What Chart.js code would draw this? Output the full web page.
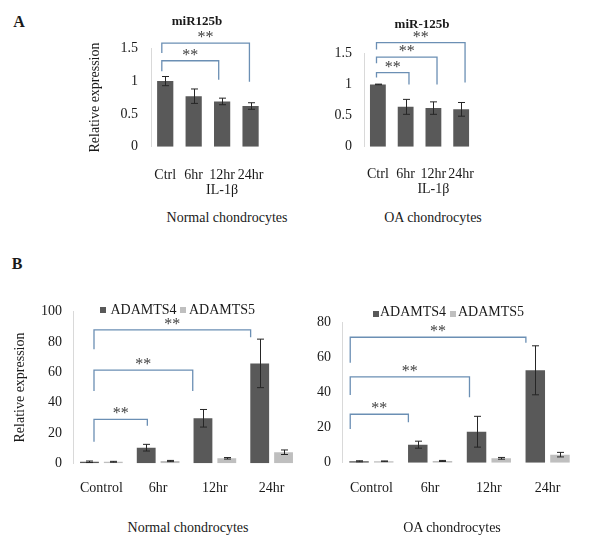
<!DOCTYPE html>
<html>
<head>
<meta charset="utf-8">
<script src="https://cdn.jsdelivr.net/npm/chart.js@4.4.1/dist/chart.umd.min.js"></script>
<style>
  body { margin: 0; background: #fff; }
  #fig { position: relative; width: 600px; height: 544px; overflow: hidden;
         font-family: "Liberation Serif", "Times New Roman", serif; color: #1a1a1a; }
  #fig canvas { position: absolute; }
  .t { position: absolute; transform: translate(-50%, -50%); white-space: nowrap; font-size: 14px; line-height: 1; }
  .b { font-weight: bold; }
  .key { position: absolute; width: 6px; height: 6px; }
  .kt { position: absolute; font-size: 14px; line-height: 1; white-space: nowrap; transform: translateY(-50%); }
</style>
</head>
<body>
<div id="fig">
  <canvas id="miNormal" width="205" height="184" style="left:80px;top:26px"></canvas>
  <canvas id="miOA" width="175" height="184" style="left:320px;top:26px"></canvas>
  <canvas id="tsNormal" width="308" height="220" style="left:0px;top:290px"></canvas>
  <canvas id="tsOA" width="285" height="210" style="left:300px;top:300px"></canvas>

  <div class="t b" style="left:19px;top:22px;font-size:16px">A</div>
  <div class="t b" style="left:17px;top:264px;font-size:16px">B</div>
  <div class="t b" style="left:197px;top:20px;font-size:13px">miR125b</div>
  <div class="t b" style="left:422px;top:23px;font-size:13px">miR-125b</div>
  <div class="t" style="left:227px;top:218px">Normal chondrocytes</div>
  <div class="t" style="left:433px;top:218px">OA chondrocytes</div>
  <div class="t" style="left:188px;top:528px">Normal chondrocytes</div>
  <div class="t" style="left:452px;top:528px">OA chondrocytes</div>

  <div class="key" style="left:100px;top:307px;background:#595959"></div>
  <div class="kt" style="left:110.5px;top:310px">ADAMTS4</div>
  <div class="key" style="left:180px;top:307px;background:#bfbfbf"></div>
  <div class="kt" style="left:189px;top:310px">ADAMTS5</div>
  <div class="key" style="left:373px;top:311px;background:#595959"></div>
  <div class="kt" style="left:380px;top:312px">ADAMTS4</div>
  <div class="key" style="left:450px;top:311px;background:#bfbfbf"></div>
  <div class="kt" style="left:458px;top:312px">ADAMTS5</div>
</div>
<script>
// miR-125b relative expression after IL-1β
const miTimes = ['Ctrl', '6hr', ['12hr', 'IL-1β'], '24hr'];
const normalMiR = [1.0, 0.77, 0.69, 0.62];
const normalMiRErr = [0.07, 0.11, 0.05, 0.05];
const oaMiR = [1.0, 0.64, 0.62, 0.60];
const oaMiRErr = [0.005, 0.12, 0.10, 0.11];

// ADAMTS4 / ADAMTS5 relative expression
const tsTimes = ['Control', '6hr', '12hr', '24hr'];
const normalTS4 = [1.0, 10.3, 29.7, 65.9];
const normalTS4Err = [0.5, 2.2, 5.8, 16];
const normalTS5 = [1.0, 1.5, 3.3, 7.3];
const normalTS5Err = [0.3, 0.4, 0.5, 1.5];
const oaTS4 = [0.8, 10.3, 17.7, 52.8];
const oaTS4Err = [0.3, 2.0, 8.8, 14];
const oaTS5 = [0.8, 1.0, 2.5, 4.6];
const oaTS5Err = [0.2, 0.3, 0.5, 1.3];

// significance brackets: [from, to, level, left leg end, right leg end]
const normalMiRSig = [[0, 2, 1.31, 1.15, 1.02], [0, 3, 1.58, 1.43, 0.99]];
const oaMiRSig = [[0, 1, 1.19, 1.11, 1.0], [0, 2, 1.44, 1.34, 1.0], [0, 3, 1.67, 1.56, 1.03]];
const normalTSSig = [[0, 1, 29, 14.2, 24.8], [0, 2, 61.5, 47.7, 47.7], [0, 3, 88, 75.2, 83.1]];
const oaTSSig = [[0, 1, 27.7, 19.3, 23.1], [0, 2, 49.1, 38.7, 37.4], [0, 3, 71.7, 57.1, 68.6]];

const FONT = '"Liberation Serif", "Times New Roman", serif';

const errorBars = {
  id: 'errorBars',
  afterDatasetsDraw(chart) {
    const {ctx} = chart;
    const y = chart.scales.y;
    chart.data.datasets.forEach((ds, i) => {
      chart.getDatasetMeta(i).data.forEach((bar, j) => {
        const v = ds.data[j], e = ds.err[j];
        const x = Math.round(bar.x) + 0.5;
        const top = y.getPixelForValue(v + e);
        const bot = y.getPixelForValue(Math.max(0, v - e));
        ctx.save();
        ctx.strokeStyle = '#262626';
        ctx.lineWidth = 1;
        ctx.beginPath();
        ctx.moveTo(x, top); ctx.lineTo(x, bot);
        ctx.moveTo(x - 3.5, top); ctx.lineTo(x + 3.5, top);
        ctx.moveTo(x - 3.5, bot); ctx.lineTo(x + 3.5, bot);
        ctx.stroke();
        ctx.restore();
      });
    });
  }
};

const sigBrackets = {
  id: 'sigBrackets',
  afterDraw(chart, args, opts) {
    const {ctx, scales: {x, y}} = chart;
    ctx.save();
    opts.items.forEach(([a, b, level, endA, endB], k) => {
      const xa = x.getPixelForValue(a + opts.shiftFrom);
      const xb = x.getPixelForValue(b + opts.shiftTo[k]);
      const yl = y.getPixelForValue(level);
      ctx.strokeStyle = '#6b8fb4';
      ctx.lineWidth = 1.3;
      ctx.beginPath();
      ctx.moveTo(xa, y.getPixelForValue(endA));
      ctx.lineTo(xa, yl);
      ctx.lineTo(xb, yl);
      ctx.lineTo(xb, y.getPixelForValue(endB));
      ctx.stroke();
      ctx.fillStyle = '#404040';
      ctx.font = '16px ' + FONT;
      ctx.textAlign = 'center';
      ctx.textBaseline = 'alphabetic';
      ctx.fillText('**', (xa + xb) / 2, yl - 1);
    });
    ctx.restore();
  }
};

function makeChart(id, cfg) {
  const font = {family: FONT, size: 14};
  return new Chart(document.getElementById(id), {
    type: 'bar',
    data: {labels: cfg.labels, datasets: cfg.datasets},
    plugins: [errorBars, sigBrackets],
    options: {
      responsive: false,
      animation: false,
      events: [],
      layout: {padding: {top: cfg.padTop, right: 8, left: 0, bottom: 0}},
      plugins: {
        legend: {display: false},
        tooltip: {enabled: false},
        sigBrackets: {items: cfg.sig, shiftFrom: cfg.shiftFrom, shiftTo: cfg.shiftTo}
      },
      scales: {
        x: {
          grid: {display: false, drawTicks: false},
          border: {display: false},
          ticks: {color: '#1a1a1a', font: {family: FONT, size: 14, lineHeight: cfg.xLine},
                  padding: cfg.padX, maxRotation: 0, autoSkip: false},
          afterFit(s) { s.height = cfg.xHeight; }
        },
        y: {
          min: 0,
          max: cfg.yMax,
          grid: {display: false, drawTicks: false},
          border: {display: true, color: '#d9d9d9'},
          ticks: {stepSize: cfg.step, color: '#1a1a1a', font, padding: cfg.padY,
                  callback: v => String(v)},
          title: {display: !!cfg.yTitle, text: cfg.yTitle, color: '#1a1a1a', font, padding: {top: cfg.titlePad, bottom: 0}},
          afterFit(s) { s.width = cfg.yWidth; }
        }
      }
    }
  });
}

const dark = '#595959', light = '#bfbfbf';

makeChart('miNormal', {
  labels: miTimes,
  datasets: [{data: normalMiR, err: normalMiRErr, backgroundColor: dark, barPercentage: 0.57, categoryPercentage: 1}],
  yMax: 1.5, step: 0.5, yTitle: 'Relative expression', titlePad: 6.6,
  yWidth: 71, xHeight: 63.3, padTop: 22.3, padY: 13, padX: 20.6, xLine: 1.1,
  sig: normalMiRSig, shiftFrom: -0.12, shiftTo: [-0.12, -0.04]
});

makeChart('miOA', {
  labels: miTimes,
  datasets: [{data: oaMiR, err: oaMiRErr, backgroundColor: dark, barPercentage: 0.57, categoryPercentage: 1}],
  yMax: 1.5, step: 0.5, yTitle: '', titlePad: 0,
  yWidth: 44, xHeight: 63.3, padTop: 27.3, padY: 12, padX: 20, xLine: 1.1,
  sig: oaMiRSig, shiftFrom: -0.05, shiftTo: [0.12, 0.13, 0.14]
});

makeChart('tsNormal', {
  labels: tsTimes,
  datasets: [
    {label: 'ADAMTS4', data: normalTS4, err: normalTS4Err, backgroundColor: dark, barPercentage: 0.79, categoryPercentage: 0.84},
    {label: 'ADAMTS5', data: normalTS5, err: normalTS5Err, backgroundColor: light, barPercentage: 0.79, categoryPercentage: 0.84}
  ],
  yMax: 100, step: 20, yTitle: 'Relative expression', titlePad: 11.6,
  yWidth: 73, xHeight: 46.7, padTop: 21.7, padY: 11, padX: 17, xLine: 1.2,
  sig: normalTSSig, shiftFrom: -0.13, shiftTo: [-0.19, -0.39, -0.37]
});

makeChart('tsOA', {
  labels: tsTimes,
  datasets: [
    {label: 'ADAMTS4', data: oaTS4, err: oaTS4Err, backgroundColor: dark, barPercentage: 0.79, categoryPercentage: 0.84},
    {label: 'ADAMTS5', data: oaTS5, err: oaTS5Err, backgroundColor: light, barPercentage: 0.79, categoryPercentage: 0.84}
  ],
  yMax: 80, step: 20, yTitle: '', titlePad: 0,
  yWidth: 42, xHeight: 47.3, padTop: 22.7, padY: 11, padX: 17, xLine: 1.2,
  sig: oaTSSig, shiftFrom: -0.36, shiftTo: [-0.37, -0.33, -0.37]
});
</script>
</body>
</html>
